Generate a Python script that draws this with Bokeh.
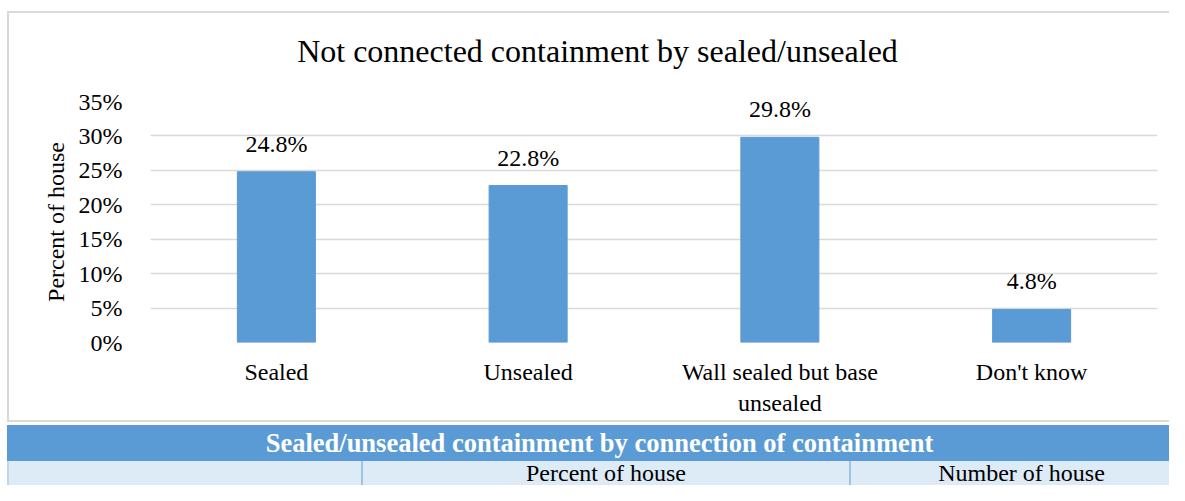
from bokeh.plotting import figure
from bokeh.models import ColumnDataSource, LabelSet, Range1d, FixedTicker, Div, Spacer
from bokeh.layouts import column, row
from bokeh.embed import file_html
from bokeh.resources import INLINE
from bokeh.core.properties import value

# ---- data ----
categories = ["Sealed", "Unsealed", "Wall sealed but base\nunsealed", "Don't know"]
percent = [24.8, 22.8, 29.8, 4.8]
bar_labels = ["24.8%", "22.8%", "29.8%", "4.8%"]
y_ticks = [0, 5, 10, 15, 20, 25, 30, 35]
y_tick_labels = ["0%", "5%", "10%", "15%", "20%", "25%", "30%", "35%"]
title_text = "Not connected containment by sealed/unsealed"
table_title = "Sealed/unsealed containment by connection of containment"
table_columns = ["", "Percent of house", "Number of house"]

FONT = "Liberation Serif"
BLUE = "#5B9BD5"
GRID = "#d9d9d9"

src = ColumnDataSource(dict(cat=categories, pct=percent, lab=bar_labels))

# ---- chart title (top part of the bordered chart box) ----
title_html = f"""
<div style="position:relative;width:1162px;height:60px;overflow:hidden;box-sizing:border-box;
     border-top:2px solid {GRID};border-left:2px solid {GRID};font-family:'{FONT}';">
  <div style="position:absolute;left:-2px;top:19px;width:1181px;height:38px;font-size:32px;line-height:38px;
       text-align:center;color:black;white-space:nowrap;">{title_text}</div>
</div>
"""
title_div = Div(text=title_html, width=1162, height=60, margin=0)

# ---- chart ----
p = figure(x_range=categories, y_range=Range1d(0, 35), width=1162, height=351,
           output_backend="svg", toolbar_location=None,
           min_border_left=141, min_border_right=14, min_border_top=30,
           min_border_bottom=80)
p.styles = {"border-left": f"2px solid {GRID}", "border-bottom": f"2px solid {GRID}",
            "box-sizing": "border-box"}
p.outline_line_color = None

p.vbar(x="cat", top="pct", width=0.31, color=BLUE, source=src)

p.add_layout(LabelSet(x="cat", y="pct", text="lab", source=src, text_align="center",
                      text_baseline="alphabetic", y_offset=20, text_font=value(FONT),
                      text_font_size="24px", text_color="black"))

p.yaxis.ticker = FixedTicker(ticks=y_ticks)
p.yaxis.major_label_overrides = {t: l for t, l in zip(y_ticks, y_tick_labels)}
p.yaxis.axis_line_color = None
p.yaxis.major_tick_line_color = None
p.yaxis.minor_tick_line_color = None
p.yaxis.major_label_text_font = FONT
p.yaxis.major_label_text_font_size = "24px"
p.yaxis.major_label_text_color = "black"
p.yaxis.major_label_standoff = 22
p.yaxis.axis_label = "Percent of house"
p.yaxis.axis_label_text_font = FONT
p.yaxis.axis_label_text_font_size = "24px"
p.yaxis.axis_label_text_font_style = "normal"
p.yaxis.axis_label_text_color = "black"
p.yaxis.axis_label_standoff = 7

p.xaxis.axis_line_color = None
p.xaxis.major_tick_line_color = None
p.xaxis.minor_tick_line_color = None
p.xaxis.major_label_text_font = FONT
p.xaxis.major_label_text_font_size = "24px"
p.xaxis.major_label_text_color = "black"
p.xaxis.major_label_standoff = 10

p.xgrid.grid_line_color = None
p.ygrid.grid_line_color = GRID
p.ygrid.grid_line_width = 1.5

# ---- table strip below (HTML) ----
html = f"""
<div style="position:relative;width:1169px;height:63px;overflow:hidden;font-family:'{FONT}';">
  <div style="position:absolute;left:7px;top:3px;width:1185px;height:36px;background:{BLUE};
       color:white;font-weight:bold;font-size:26.5px;line-height:36px;text-align:center;white-space:nowrap;">{table_title}</div>
  <div style="position:absolute;left:7px;top:39px;width:1185px;height:24px;background:#DDEBF7;
       border-left:2px solid #BDD7EE;box-sizing:border-box;"></div>
  <div style="position:absolute;left:7px;top:39px;width:354px;height:24px;font-size:24px;line-height:24px;
       text-align:center;color:black;">{table_columns[0]}</div>
  <div style="position:absolute;left:361px;top:39px;width:488px;height:24px;font-size:24px;line-height:24px;
       text-align:center;color:black;border-left:2px solid #9DC3E6;box-sizing:border-box;white-space:nowrap;">{table_columns[1]}</div>
  <div style="position:absolute;left:849px;top:39px;width:343px;height:24px;font-size:24px;line-height:24px;
       text-align:center;color:black;border-left:2px solid #9DC3E6;box-sizing:border-box;white-space:nowrap;">{table_columns[2]}</div>
</div>
"""
table = Div(text=html, width=1169, height=63, margin=0)

chart_box = column(title_div, p, spacing=0)
layout = column(Spacer(height=11, width=1169, margin=0),
                row(Spacer(width=7, height=411, margin=0), chart_box, spacing=0),
                table, spacing=0)
open("out.html", "w").write(file_html(layout, INLINE))
